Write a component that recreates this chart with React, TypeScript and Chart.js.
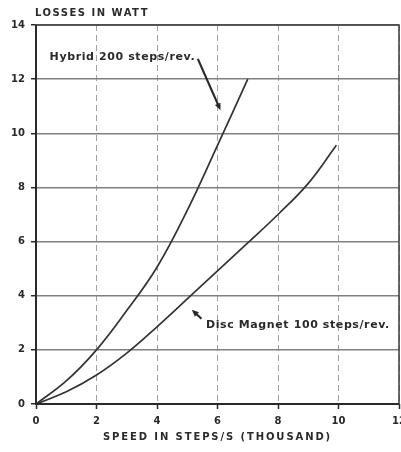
import React, { useEffect, useRef } from "react";
import { Chart, registerables } from "chart.js";

Chart.register(...registerables);

const hybridX = [0, 1, 2, 3, 4, 5, 6, 7];
const hybridY = [0, 0.85, 2.0, 3.45, 5.05, 7.15, 9.55, 12.0];
const discX = [0, 1, 2, 3, 4, 5, 6, 7, 8, 9, 9.93];
const discY = [0, 0.45, 1.07, 1.88, 2.85, 3.88, 4.92, 5.95, 7.0, 8.15, 9.56];
const xTicks = [0, 2, 4, 6, 8, 10, 12];
const yTicks = [0, 2, 4, 6, 8, 10, 12, 14];

const yTitle = "LOSSES IN WATT";
const xTitle = "SPEED IN STEPS/S (THOUSAND)";
const hybridLabel = "Hybrid 200 steps/rev.";
const discLabel = "Disc Magnet 100 steps/rev.";

// annotation anchors in data units
const hybridLabelAt = { x: 0.45, y: 12.8 };
const hybridArrow = { from: { x: 5.35, y: 12.75 }, to: { x: 6.1, y: 10.85 } };
const discLabelAt = { x: 5.62, y: 2.9 };
const discArrow = { from: { x: 5.47, y: 3.15 }, to: { x: 5.15, y: 3.48 } };

const INK = "#2a2a2a";
const FONT = "'DejaVu Sans', sans-serif";

const overlay = {
  id: "overlay",
  afterDraw(chart: any) {
    const { ctx, chartArea, scales } = chart;
    const xs = scales.x;
    const ys = scales.y;
    ctx.save();
    // frame
    ctx.strokeStyle = "#444";
    ctx.lineWidth = 1.6;
    ctx.strokeRect(chartArea.left, chartArea.top, chartArea.right - chartArea.left, chartArea.bottom - chartArea.top);
    ctx.strokeStyle = INK;
    ctx.lineWidth = 2;
    ctx.beginPath();
    ctx.moveTo(chartArea.left, chartArea.top);
    ctx.lineTo(chartArea.left, chartArea.bottom);
    ctx.lineTo(chartArea.right, chartArea.bottom);
    ctx.stroke();

    ctx.fillStyle = INK;
    ctx.textBaseline = "middle";
    // y title
    ctx.font = `bold 10px ${FONT}`;
    ctx.textAlign = "left";
    (ctx as any).letterSpacing = "1.5px";
    ctx.fillText(yTitle, chartArea.left - 1, 13);
    // x title
    (ctx as any).letterSpacing = "1.9px";
    ctx.textAlign = "center";
    ctx.fillText(xTitle, (chartArea.left + chartArea.right) / 2, 437);

    // labels
    ctx.textAlign = "left";
    ctx.font = `bold 11px ${FONT}`;
    (ctx as any).letterSpacing = "0.6px";
    ctx.fillText(hybridLabel, xs.getPixelForValue(hybridLabelAt.x), ys.getPixelForValue(hybridLabelAt.y));
    ctx.fillText(discLabel, xs.getPixelForValue(discLabelAt.x), ys.getPixelForValue(discLabelAt.y));
    (ctx as any).letterSpacing = "0px";

    const arrow = (a: any) => {
      const x1 = xs.getPixelForValue(a.from.x);
      const y1 = ys.getPixelForValue(a.from.y);
      const x2 = xs.getPixelForValue(a.to.x);
      const y2 = ys.getPixelForValue(a.to.y);
      const ang = Math.atan2(y2 - y1, x2 - x1);
      ctx.strokeStyle = INK;
      ctx.lineWidth = 2.2;
      ctx.beginPath();
      ctx.moveTo(x1, y1);
      ctx.lineTo(x2 - 4 * Math.cos(ang), y2 - 4 * Math.sin(ang));
      ctx.stroke();
      ctx.fillStyle = INK;
      ctx.beginPath();
      ctx.moveTo(x2, y2);
      ctx.lineTo(x2 - 7 * Math.cos(ang) + 3 * Math.sin(ang), y2 - 7 * Math.sin(ang) - 3 * Math.cos(ang));
      ctx.lineTo(x2 - 7 * Math.cos(ang) - 3 * Math.sin(ang), y2 - 7 * Math.sin(ang) + 3 * Math.cos(ang));
      ctx.closePath();
      ctx.fill();
    };
    arrow(hybridArrow);
    arrow(discArrow);
    ctx.restore();
  },
};

export default function App() {
  const ref = useRef<HTMLCanvasElement>(null);
  useEffect(() => {
    document.body.style.margin = "0";
    const chart = new Chart(ref.current!, {
      type: "line",
      data: {
        datasets: [
          {
            label: "Hybrid",
            data: hybridX.map((x, i) => ({ x, y: hybridY[i] })),
            borderColor: "#333",
            borderWidth: 1.7,
            pointRadius: 0,
            tension: 0.4,
          },
          {
            label: "Disc",
            data: discX.map((x, i) => ({ x, y: discY[i] })),
            borderColor: "#333",
            borderWidth: 1.7,
            pointRadius: 0,
            tension: 0.4,
          },
        ],
      },
      options: {
        animation: false,
        responsive: true,
        maintainAspectRatio: false,
        layout: { padding: { top: 25, right: 2, left: 0, bottom: 0 } },
        plugins: { legend: { display: false }, tooltip: { enabled: false }, title: { display: false } },
        scales: {
          x: {
            type: "linear",
            min: 0,
            max: 12,
            afterBuildTicks: (s: any) => {
              s.ticks = xTicks.map((v) => ({ value: v }));
            },
            afterFit: (s: any) => {
              s.height = 48;
              s.paddingLeft = 0;
              s.paddingRight = 0;
            },
            ticks: { color: INK, font: { family: FONT, size: 10, weight: "bold" }, padding: 6, maxRotation: 0 },
            grid: { color: "#a0a0a0", lineWidth: 1, tickLength: 5, tickColor: INK, tickWidth: 1.5 },
            border: { display: false, dash: [6, 4] },
          },
          y: {
            type: "linear",
            min: 0,
            max: 14,
            afterBuildTicks: (s: any) => {
              s.ticks = yTicks.map((v) => ({ value: v }));
            },
            afterFit: (s: any) => {
              s.width = 36;
              s.paddingTop = 0;
              s.paddingBottom = 0;
            },
            ticks: { color: INK, font: { family: FONT, size: 10, weight: "bold" }, padding: 6 },
            grid: { color: "#808080", lineWidth: 1.5, tickLength: 5, tickColor: INK, tickWidth: 1.5 },
            border: { display: false },
          },
        },
      },
      plugins: [overlay],
    });
    return () => chart.destroy();
  }, []);
  return (
    <div style={{ width: 401, height: 452, position: "relative", background: "#fff" }}>
      <canvas ref={ref} />
    </div>
  );
}
